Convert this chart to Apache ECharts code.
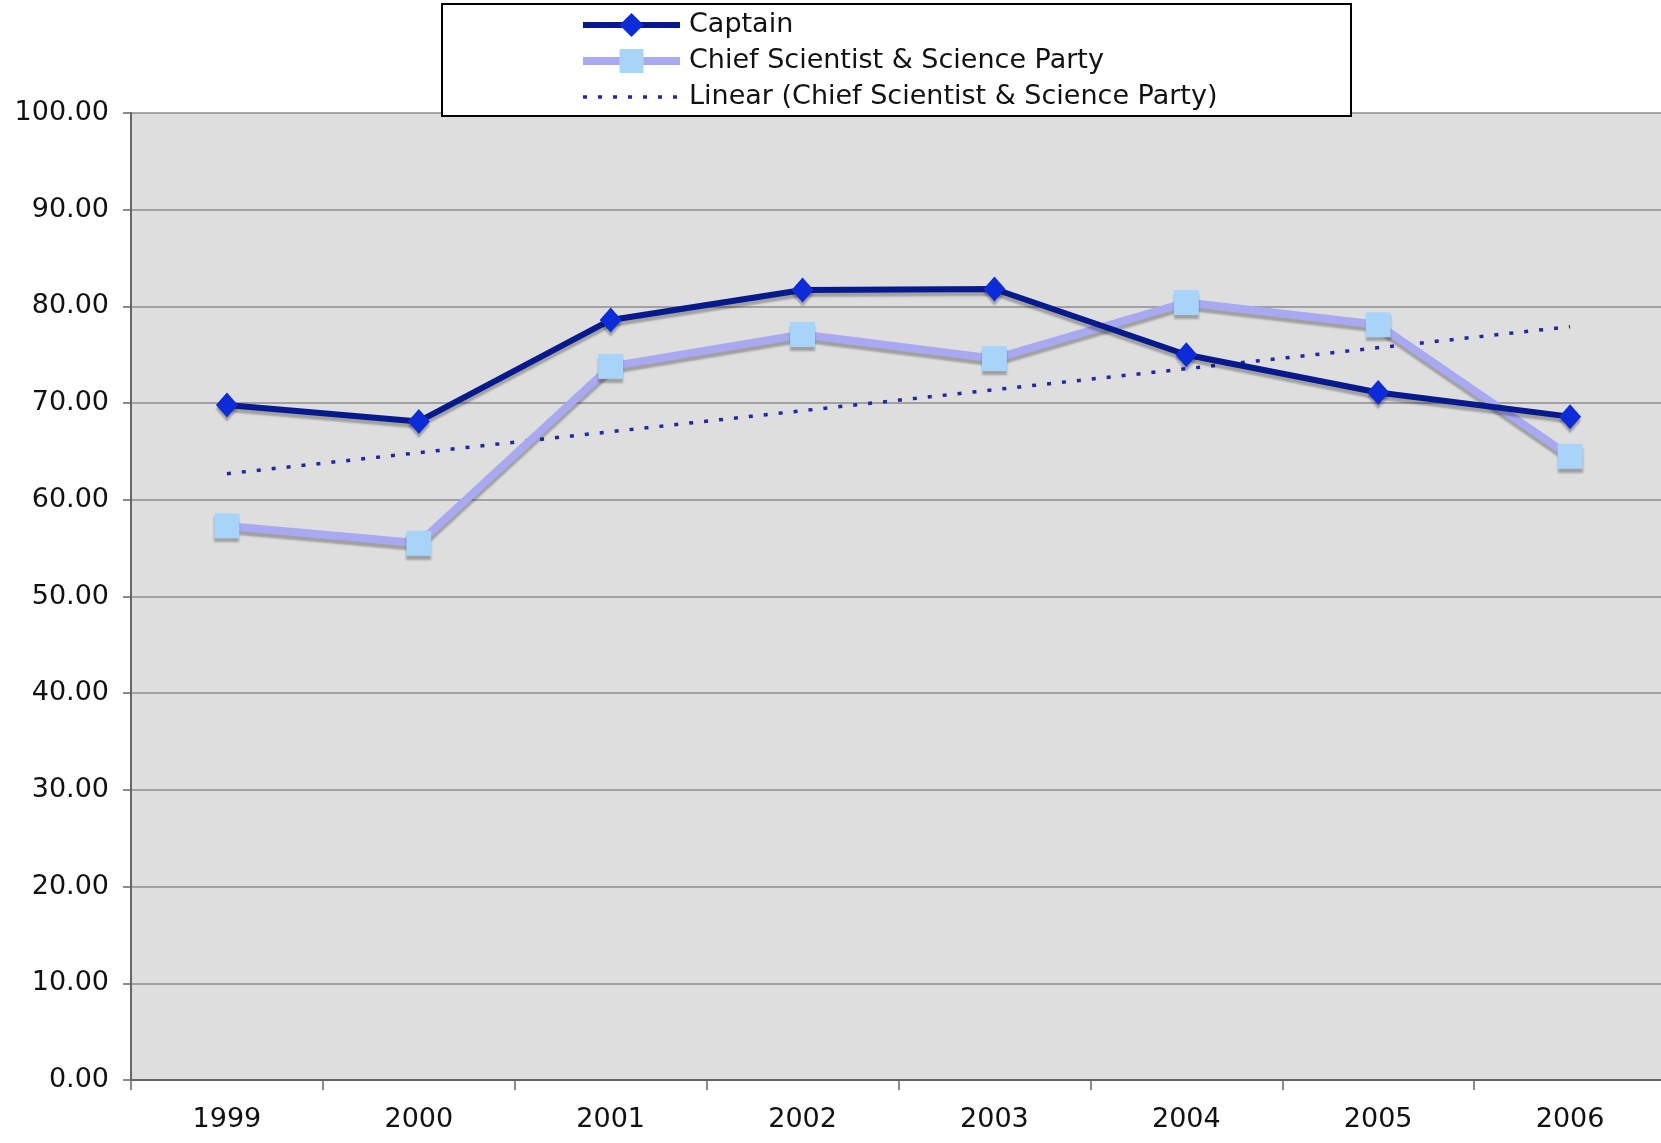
<!DOCTYPE html>
<html>
<head>
<meta charset="utf-8">
<script src="https://cdn.jsdelivr.net/npm/echarts@6/dist/echarts.min.js"></script>
<style>
  html, body { margin: 0; padding: 0; background: #fff; }
  #chart { width: 1661px; height: 1143px; }
</style>
</head>
<body>
<div id="chart"></div>
<script>
// values
const years = ['1999', '2000', '2001', '2002', '2003', '2004', '2005', '2006']
const captain = [69.8, 68.1, 78.6, 81.7, 81.8, 75.0, 71.1, 68.6]
const chiefScience = [57.3, 55.5, 73.8, 77.1, 74.6, 80.4, 78.1, 64.5]
// trend line: the two ends, joined straight
const linearChief = [62.7, null, null, null, null, null, null, 77.9]

const font = 'DejaVu Sans, Verdana, sans-serif'
const shadow = { shadowColor: 'rgba(0,0,0,0.28)', shadowBlur: 2, shadowOffsetY: 4 }

const chart = echarts.init(document.getElementById('chart'))
chart.setOption({
  animation: false,
  backgroundColor: '#fff',
  graphic: [
    {
      type: 'rect',
      z: 10,
      shape: { x: 442, y: 4, width: 909, height: 112 },
      style: { fill: '#fff', stroke: '#000', lineWidth: 2 }
    }
  ],
  legend: {
    z: 12,
    orient: 'vertical',
    left: 579,
    top: 10,
    itemWidth: 97,
    itemHeight: 30,
    itemGap: 6,
    padding: 0,
    textStyle: { fontFamily: font, fontSize: 27, color: '#111', lineHeight: 30, padding: [0, 0, 0, 4] },
    data: [
      { name: 'Captain', lineStyle: { width: 6, shadowBlur: 0, shadowOffsetY: 0 } },
      { name: 'Chief Scientist & Science Party', lineStyle: { width: 8, shadowBlur: 0, shadowOffsetY: 0 } },
      { name: 'Linear (Chief Scientist & Science Party)', itemStyle: { opacity: 0 }, lineStyle: { width: 3.5 } }
    ]
  },
  grid: {
    left: 131,
    width: 1535,
    top: 113,
    bottom: 63,
    outerBoundsMode: 'none',
    show: true,
    backgroundColor: '#dedede',
    borderWidth: 0
  },
  xAxis: {
    type: 'category',
    data: years,
    boundaryGap: true,
    axisLine: { lineStyle: { color: '#666', width: 2 } },
    axisTick: { show: true, length: 10, interval: 0, lineStyle: { color: '#666', width: 1.5 } },
    axisLabel: { fontFamily: font, fontSize: 27, color: '#111', margin: 26 }
  },
  yAxis: {
    type: 'value',
    min: 0,
    max: 100,
    interval: 10,
    axisLine: { show: true, lineStyle: { color: '#666', width: 2 } },
    axisTick: { show: true, length: 8, lineStyle: { color: '#666', width: 1.5 } },
    axisLabel: {
      fontFamily: font,
      fontSize: 27,
      color: '#111',
      margin: 22,
      formatter: (v) => v.toFixed(2)
    },
    splitLine: { lineStyle: { color: '#8c8c8c', width: 1.5 } }
  },
  series: [
    {
      name: 'Captain',
      type: 'line',
      data: captain,
      z: 4,
      symbol: 'diamond',
      symbolSize: [22, 25],
      lineStyle: { color: '#061a8e', width: 6, ...shadow },
      itemStyle: { color: '#0b2cd8', ...shadow }
    },
    {
      name: 'Chief Scientist & Science Party',
      type: 'line',
      data: chiefScience,
      z: 3,
      symbol: 'rect',
      symbolSize: 25,
      lineStyle: { color: '#a9a9f2', width: 8, ...shadow },
      itemStyle: { color: '#a8d4fa', ...shadow }
    },
    {
      name: 'Linear (Chief Scientist & Science Party)',
      type: 'line',
      data: linearChief,
      z: 2,
      connectNulls: true,
      symbol: 'none',
      lineStyle: { color: '#2226a8', width: 3.5, type: [4, 11] },
      itemStyle: { color: '#2226a8' }
    }
  ]
})
</script>
</body>
</html>
